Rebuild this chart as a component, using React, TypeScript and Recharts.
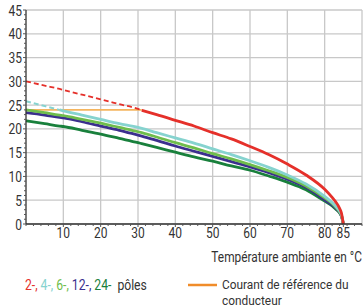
import React from 'react';
import { LineChart, Line, XAxis, YAxis, CartesianGrid } from 'recharts';

// Temperatures (°C) where the curves were read
const temps = [0, 5, 9, 10, 15, 20, 25, 30, 31, 35, 40, 45, 50, 55, 60, 65, 70, 75, 80, 82, 83, 84, 84.5, 85];

// Current (A) per pole count
const pole2 = [30, 29.1, 28.4, 28.2, 27.2, 26.2, 25.2, 24.2, 23.9, 23.0, 21.8, 20.6, 19.2, 17.9, 16.3, 14.6, 12.6, 10.3, 7.3, 5.6, 4.6, 3.3, 2.3, 0];
const pole4 = [25.8, 24.8, 24.0, 23.8, 22.9, 22.0, 21.1, 20.3, 20.1, 19.2, 18.1, 17.0, 15.8, 14.6, 13.3, 11.9, 10.3, 8.4, 5.8, 4.5, 3.7, 2.7, 1.9, 0];
const pole6 = [24.0, 23.4, 22.9, 22.8, 22.0, 21.2, 20.3, 19.4, 19.2, 18.3, 17.1, 16.0, 14.8, 13.7, 12.5, 11.2, 9.8, 8.0, 5.5, 4.3, 3.5, 2.5, 1.8, 0];
const pole12 = [23.4, 22.9, 22.4, 22.3, 21.5, 20.6, 19.7, 18.7, 18.5, 17.6, 16.4, 15.3, 14.2, 13.1, 12.0, 10.8, 9.4, 7.7, 5.1, 4.0, 3.3, 2.4, 1.7, 0];
const pole24 = [21.7, 21.1, 20.6, 20.5, 19.7, 18.9, 18.0, 17.1, 16.9, 16.1, 15.1, 14.1, 13.2, 12.2, 11.3, 10.1, 8.8, 7.2, 4.8, 3.8, 3.1, 2.3, 1.6, 0];

// Reference current of the conductor
const refCurrent = 24;
const refEnd = 31; // 2-pole curve is dashed above the reference current
const pole4DashEnd = 9;

const yTicks = [0, 5, 10, 15, 20, 25, 30, 35, 40, 45];
const xLabels = [10, 20, 30, 40, 50, 60, 70, 80, 85];
const xGrid = [10, 20, 30, 40, 50, 60, 70, 80, 90];
const xMinor = Array.from({ length: 46 }, (_, i) => i * 2).concat([85]).sort((a, b) => a - b);
const yMinor = Array.from({ length: 46 }, (_, i) => i);

const RED = '#e5302a';
const CYAN = '#86d3cf';
const GREEN = '#6fbd4c';
const BLUE = '#3b2f8e';
const DKGREEN = '#19803c';
const ORANGE = '#f5b55e';
const ORANGE_LEG = '#f08c2a';
const TEXT = '#333';

const FONT = 'Roboto, sans-serif';

const data = temps.map((t, i) => ({
  t,
  p2dash: t <= refEnd ? pole2[i] : null,
  p2: t >= refEnd ? pole2[i] : null,
  p4dash: t <= pole4DashEnd ? pole4[i] : null,
  p4: t >= pole4DashEnd ? pole4[i] : null,
  p6: pole6[i],
  p12: pole12[i],
  p24: pole24[i],
  ref: t <= refEnd ? refCurrent : null,
}));

// narrow-looking text: regular Roboto squeezed horizontally
const CText = ({ x, y, anchor = 'start', size = 14, sx = 0.8, fill = TEXT, children }: any) => (
  <text
    transform={`translate(${x},${y}) scale(${sx},1)`}
    textAnchor={anchor}
    fontSize={size}
    fill={fill}
    fontFamily={FONT}
  >
    {children}
  </text>
);

const XTick = (props: any) => {
  const { x, y, payload } = props;
  const v = payload.value;
  const labeled = xLabels.includes(v);
  return (
    <g>
      <line x1={x} y1={y} x2={x} y2={y + (labeled ? 3 : 2)} stroke="#555" strokeWidth={1} />
      {labeled && (
        <CText x={x} y={y + 14} anchor="middle" size={15}>
          {v}
        </CText>
      )}
    </g>
  );
};

const YTick = (props: any) => {
  const { x, y, payload } = props;
  const v = payload.value;
  const labeled = yTicks.includes(v);
  return (
    <g>
      <line x1={x} y1={y} x2={x - (labeled ? 3 : 2)} y2={y} stroke="#555" strokeWidth={1} />
      {labeled && (
        <CText x={x - 4} y={y + 5.5} anchor="end" size={15}>
          {v}
        </CText>
      )}
    </g>
  );
};

export default function App() {
  return (
    <div style={{ position: 'absolute', left: 0, top: 0, width: 363, height: 307, background: '#fff' }}>
      <LineChart width={363} height={307} data={data} margin={{ top: 10, right: 1, left: 0, bottom: 50 }}>
        <CartesianGrid stroke="#c8c8c8" strokeWidth={1.3} verticalValues={xGrid} horizontalValues={yTicks} />
        <XAxis
          dataKey="t"
          type="number"
          domain={[0, 90]}
          ticks={xMinor}
          interval={0}
          tick={<XTick />}
          tickLine={false}
          tickSize={0}
          tickMargin={0}
          axisLine={{ stroke: '#333', strokeWidth: 1.3 }}
          height={33}
        />
        <YAxis
          type="number"
          domain={[0, 45]}
          ticks={yMinor}
          interval={0}
          tick={<YTick />}
          tickLine={false}
          tickSize={0}
          tickMargin={0}
          axisLine={{ stroke: '#333', strokeWidth: 1.3 }}
          width={26}
        />
        <Line dataKey="ref" stroke={ORANGE} strokeWidth={1.6} dot={false} isAnimationActive={false} type="linear" />
        <Line dataKey="p24" stroke={DKGREEN} strokeWidth={2.8} dot={false} isAnimationActive={false} type="monotone" />
        <Line dataKey="p12" stroke={BLUE} strokeWidth={2.8} dot={false} isAnimationActive={false} type="monotone" />
        <Line dataKey="p6" stroke={GREEN} strokeWidth={2.8} dot={false} isAnimationActive={false} type="monotone" />
        <Line dataKey="p4dash" stroke={CYAN} strokeWidth={2} strokeDasharray="5 3" dot={false} isAnimationActive={false} type="monotone" />
        <Line dataKey="p4" stroke={CYAN} strokeWidth={2.8} dot={false} isAnimationActive={false} type="monotone" />
        <Line dataKey="p2dash" stroke={RED} strokeWidth={1.8} strokeDasharray="5 3" dot={false} isAnimationActive={false} type="monotone" />
        <Line dataKey="p2" stroke={RED} strokeWidth={2.8} dot={false} isAnimationActive={false} type="monotone" />
      </LineChart>
      <svg width={363} height={307} style={{ position: 'absolute', left: 0, top: 0, pointerEvents: 'none' }}>
        <CText x={362} y={262} anchor="end" size={14.5} sx={0.82}>
          Température ambiante en °C
        </CText>
        <CText x={25} y={290} size={14.5} sx={0.84}>
          <tspan fill={RED}>2-, </tspan>
          <tspan fill={CYAN}>4-, </tspan>
          <tspan fill={GREEN}>6-, </tspan>
          <tspan fill={BLUE}>12-, </tspan>
          <tspan fill={DKGREEN}>24-</tspan>
          <tspan fill={TEXT}>{'\u00a0 pôles'}</tspan>
        </CText>
        <line x1={188} y1={285} x2={217} y2={285} stroke={ORANGE_LEG} strokeWidth={2.5} />
        <CText x={222} y={289} size={13.5} sx={0.88}>
          Courant de référence du
        </CText>
        <CText x={222} y={305} size={13.5} sx={0.88}>
          conducteur
        </CText>
      </svg>
    </div>
  );
}
